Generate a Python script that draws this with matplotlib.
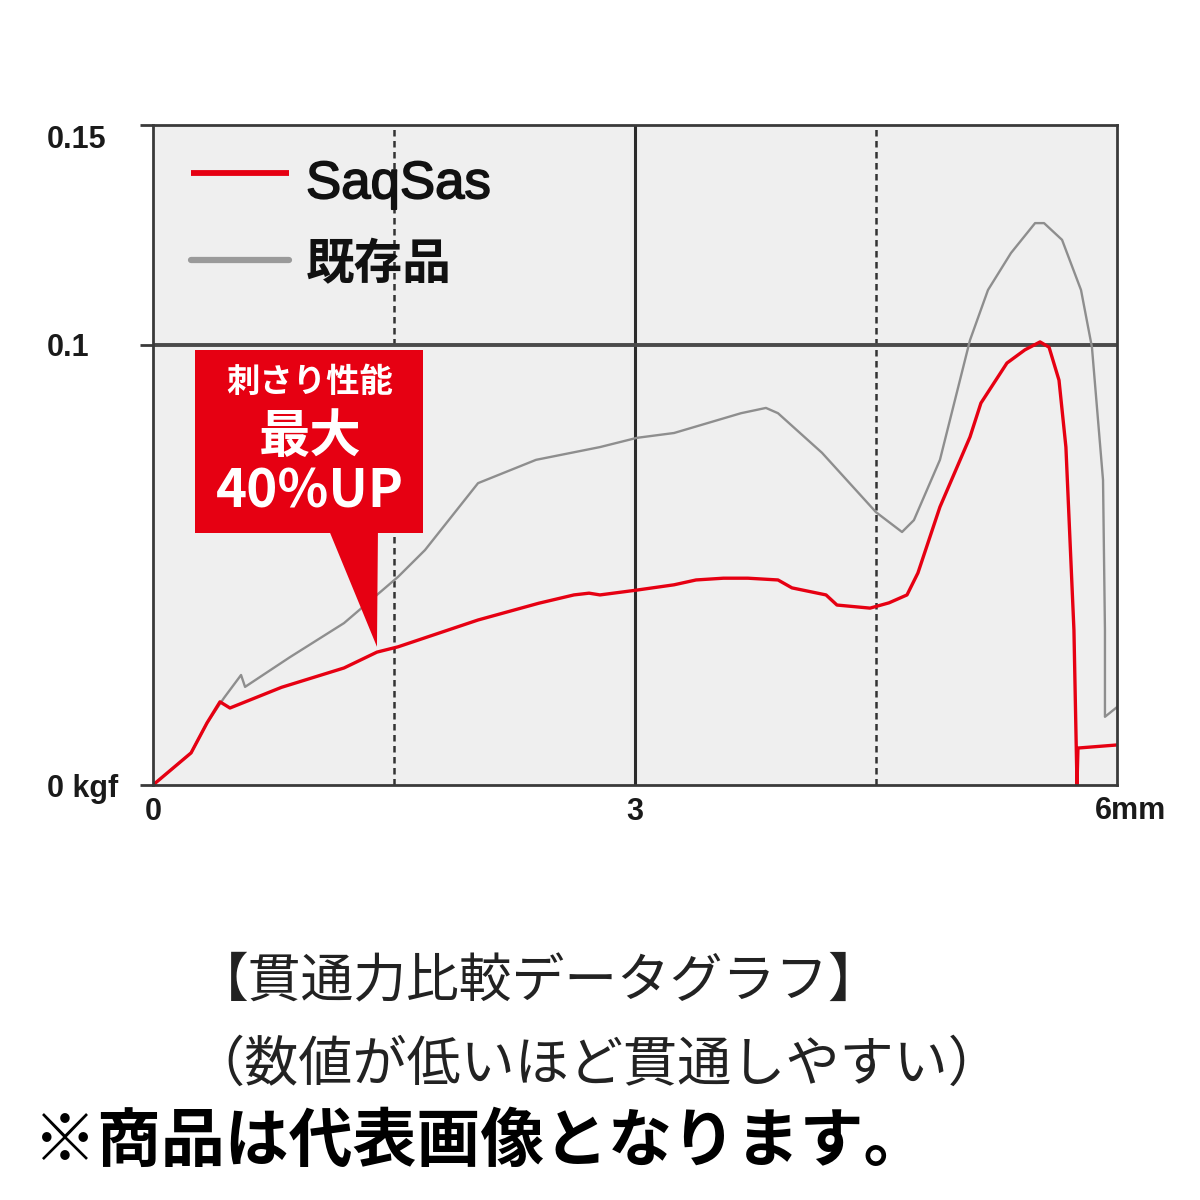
import matplotlib
matplotlib.use("Agg")
import matplotlib.pyplot as plt
import matplotlib.patheffects as pe
from matplotlib.patches import Rectangle, Polygon

# ---------------- data ----------------
saq_x = [0, 0.237, 0.336, 0.417, 0.479, 0.80, 1.189, 1.394, 1.525, 2.023, 2.40,
         2.620, 2.714, 2.782, 3.012, 3.243, 3.380, 3.55, 3.703, 3.890, 3.977,
         4.189, 4.257, 4.463, 4.581, 4.693, 4.761, 4.898, 5.085, 5.153, 5.315,
         5.427, 5.521, 5.577, 5.639, 5.682, 5.732, 5.751, 5.757, 6.0]
saq_y = [0, 0.0073, 0.0141, 0.0189, 0.0175, 0.0222, 0.0266, 0.0302, 0.0314,
         0.0375, 0.0413, 0.0432, 0.0436, 0.0432, 0.0443, 0.0455, 0.0466, 0.0470,
         0.0470, 0.0466, 0.0448, 0.0432, 0.0409, 0.0402, 0.0414, 0.0432, 0.0482,
         0.0632, 0.0791, 0.0868, 0.0959, 0.0989, 0.1007, 0.0995, 0.0920, 0.0768,
         0.0352, 0.0, 0.0084, 0.0091]

old_x = [0, 0.237, 0.336, 0.442, 0.548, 0.573, 0.85, 1.189, 1.525, 1.693, 2.023,
         2.384, 2.782, 3.012, 3.243, 3.660, 3.815, 3.890, 4.164, 4.500, 4.662,
         4.736, 4.898, 5.085, 5.197, 5.340, 5.490, 5.546, 5.658, 5.776, 5.844,
         5.913, 5.925, 5.925, 6.0]
old_y = [0, 0.0073, 0.0141, 0.0198, 0.0250, 0.0223, 0.0290, 0.0368, 0.0473,
         0.0534, 0.0686, 0.0739, 0.0768, 0.0789, 0.0800, 0.0845, 0.0857, 0.0845,
         0.0755, 0.0620, 0.0575, 0.0602, 0.0739, 0.1011, 0.1125, 0.1209, 0.1277,
         0.1277, 0.1239, 0.1125, 0.0995, 0.0693, 0.0352, 0.0155, 0.0177]

series_labels = ["SaqSas", "既存品"]
x_ticks = [0, 3, 6]
x_tick_labels = ["0", "3", "6mm"]
y_ticks = [0, 0.1, 0.15]
y_tick_labels = ["0 kgf", "0.1", "0.15"]
callout_lines = ["刺さり性能", "最大", "40%UP"]
callout_tip = (1.394, 0.0314)
caption_lines = ["【貫通力比較データグラフ】", "（数値が低いほど貫通しやすい）"]
notice = "※商品は代表画像となります。"

RED = "#e60012"
GRAY = "#8e8e8e"
CJK = ["Noto Sans CJK JP", "DejaVu Sans"]
LAT = ["Liberation Sans", "DejaVu Sans"]

fig = plt.figure(figsize=(12, 12), dpi=100)
fig.patch.set_facecolor("white")
ax = fig.add_axes([153 / 1200, 415 / 1200, 964 / 1200, 660 / 1200])
ax.set_facecolor("#efefef")
ax.set_xlim(0, 6)
ax.set_ylim(0, 0.15)

for s in ax.spines.values():
    s.set_color("#3a3a3a")
    s.set_linewidth(2.0)
    s.set_zorder(5)

# grid lines
ax.axvline(3, color="#2a2a2a", lw=2.2, zorder=1)
for xv in (1.5, 4.5):
    ax.axvline(xv, color="#333333", lw=1.8, dashes=(2.6, 1.8), zorder=1)
ax.axhline(0.1, color="#4a4a4a", lw=2.8, zorder=1)

# data lines
ax.plot(old_x, old_y, color=GRAY, lw=1.7, zorder=2, solid_joinstyle="round")
ax.plot(saq_x, saq_y, color=RED, lw=2.4, zorder=3, solid_joinstyle="round")

# ticks
ax.set_xticks(x_ticks)
ax.set_xticklabels(x_tick_labels[:2] + [""])
ax.set_yticks(y_ticks)
ax.set_yticklabels(y_tick_labels)
ax.tick_params(axis="x", length=0, pad=9, labelsize=22, labelcolor="#1a1a1a")
ax.tick_params(axis="y", length=9.4, width=2.0, color="#3a3a3a", pad=67,
               labelsize=22, labelcolor="#1a1a1a")
for t in ax.get_xticklabels() + ax.get_yticklabels():
    t.set_fontfamily(LAT)
    t.set_fontweight("bold")
for t in ax.get_yticklabels():
    t.set_horizontalalignment("left")
ax.get_yticklabels()[2].set_verticalalignment("top")
ax.annotate(x_tick_labels[2], xy=(x_ticks[2], 0), xycoords="data",
            xytext=(10, -8), textcoords="offset points", ha="center", va="top",
            fontsize=22, fontweight="bold", family=LAT, color="#1a1a1a",
            annotation_clip=False)

# legend (manual)
ax.plot([0.0394, 0.141], [0.927, 0.927], transform=ax.transAxes, color=RED,
        lw=4.2, solid_capstyle="butt", zorder=6)
ax.plot([0.0394, 0.141], [0.795, 0.795], transform=ax.transAxes, color="#9a9a9a",
        lw=4.5, solid_capstyle="round", zorder=6)
ax.text(0.1587, 0.889, series_labels[0], transform=ax.transAxes, ha="left",
        va="baseline", fontsize=38, family=LAT, color="#111111", zorder=6,
        path_effects=[pe.withStroke(linewidth=1.2, foreground="#111111")])
ax.text(0.1587, 0.789, series_labels[1], transform=ax.transAxes, ha="left",
        va="center", fontsize=35, fontweight="bold", family=CJK,
        color="#111111", zorder=6)

# callout
ax.add_patch(Rectangle((0.261, 0.0573), 1.419, 0.0416, facecolor=RED,
                       edgecolor="none", zorder=4))
ax.add_patch(Polygon([(1.102, 0.0573), (1.400, 0.0573), callout_tip],
                     closed=True, facecolor=RED, edgecolor="none", zorder=4))
ax.text(0.977, 0.0916, callout_lines[0], ha="center", va="center", fontsize=24,
        fontweight="bold", family=CJK, color="white", zorder=5)
ax.text(0.977, 0.0791, callout_lines[1], ha="center", va="center", fontsize=37,
        fontweight="bold", family=CJK, color="white", zorder=5)
ax.text(0.977, 0.0666, callout_lines[2], ha="center", va="center", fontsize=38,
        fontweight="bold", family=CJK, color="white", zorder=5)

# captions
fig.text(539 / 1200, 1 - 981 / 1200, caption_lines[0], ha="center", va="center",
         fontsize=38, family=CJK, color="#222222")
fig.text(596 / 1200, 1 - 1065 / 1200, caption_lines[1], ha="center", va="center",
         fontsize=39, family=CJK, color="#222222")
fig.text(480 / 1200, 1 - 1142 / 1200, notice, ha="center", va="center",
         fontsize=46, fontweight="bold", family=CJK, color="#000000")

fig.savefig("out.png", dpi=100)
